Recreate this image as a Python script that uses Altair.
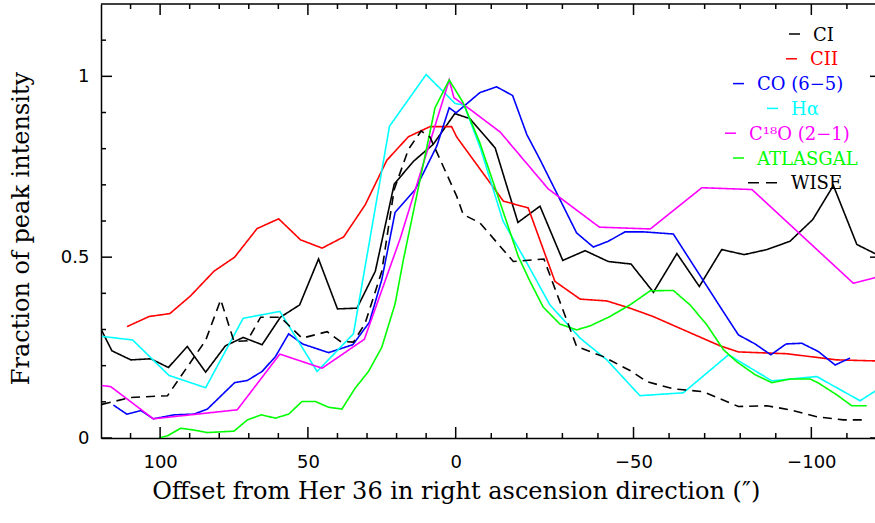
import altair as alt
import pandas as pd

# ---------------- data ----------------
SERIES = ["CI", "CII", "CO (6−5)", "Hα", "C¹⁸O (2−1)", "ATLASGAL", "WISE"]
COLORS = ["#000000", "#ff0000", "#0000ff", "#00ffff", "#ff00ff", "#00ff00", "#000000"]

CI_X = [120.0, 116.3, 109.9, 103.2, 97.2, 90.8, 84.6, 77.9, 71.9, 65.5, 59.3, 52.8, 46.4, 40.0, 33.4,
        27.2, 20.8, 14.3, 7.6, 0.3, -4.0, -11.1, -17.5, -23.7, -30.1, -36.4, -42.9, -49.3, -55.6, -62.2,
        -68.5, -74.8, -81.1, -87.5, -94.0, -100.4, -106.2, -112.8, -118.5]
CI_Y = [0.301, 0.241, 0.216, 0.219, 0.195, 0.253, 0.182, 0.255, 0.278, 0.258, 0.334, 0.368, 0.495, 0.357, 0.359,
        0.461, 0.702, 0.765, 0.812, 0.897, 0.883, 0.802, 0.596, 0.641, 0.491, 0.518, 0.488, 0.481, 0.403, 0.510,
        0.419, 0.521, 0.507, 0.521, 0.544, 0.604, 0.698, 0.535, 0.507]

CII_X = [111.2, 103.7, 96.7, 89.7, 81.8, 74.8, 67.2, 59.9, 52.5, 45.2, 37.9, 30.6, 23.3, 16.0, 8.7,
         1.4, -0.3, -13.4, -20.4, -27.9, -35.0, -42.5, -49.0, -55.5, -62.2, -68.7, -74.3, -79.5, -93.1,
         -107.2, -118.5]
CII_Y = [0.308, 0.336, 0.344, 0.393, 0.461, 0.500, 0.579, 0.606, 0.548, 0.525, 0.556, 0.645, 0.768, 0.833, 0.861,
         0.861, 0.832, 0.655, 0.636, 0.433, 0.384, 0.379, 0.359, 0.336, 0.307, 0.279, 0.255, 0.238, 0.233,
         0.216, 0.213]

CO_X = [115.8, 111.3, 106.5, 102.3, 95.3, 88.6, 84.0, 74.8, 70.5, 65.5, 61.0, 56.5, 51.8, 43.0, 34.8,
        29.2, 25.0, 20.5, 13.7, 6.4, 2.2, -0.1, -6.8, -11.5, -16.0, -20.0, -23.7, -34.0, -38.7, -42.9,
        -47.6, -52.8, -61.2, -74.8, -79.5, -84.2, -88.6, -92.9, -97.3, -102.0, -106.7, -110.9]
CO_Y = [0.091, 0.066, 0.076, 0.053, 0.064, 0.066, 0.080, 0.153, 0.159, 0.184, 0.225, 0.288, 0.260, 0.236, 0.258,
        0.320, 0.438, 0.624, 0.687, 0.807, 0.913, 0.899, 0.955, 0.971, 0.947, 0.839, 0.770, 0.567, 0.528, 0.544,
        0.570, 0.570, 0.564, 0.356, 0.285, 0.260, 0.230, 0.260, 0.262, 0.239, 0.202, 0.221]

HA_X = [119.7, 109.3, 97.0, 84.6, 71.9, 59.5, 46.9, 34.6, 22.4, 10.0, 0.2, -2.4, -7.0, -13.3, -20.0,
        -26.5, -35.0, -42.5, -51.8, -64.0, -76.7, -88.9, -101.5, -113.7, -118.5]
HA_Y = [0.281, 0.271, 0.173, 0.139, 0.331, 0.350, 0.184, 0.288, 0.862, 1.005, 0.925, 0.920, 0.800, 0.600, 0.484,
        0.368, 0.276, 0.216, 0.117, 0.125, 0.230, 0.158, 0.170, 0.103, 0.133]

C18O_X = [119.7, 116.7, 102.3, 73.9, 59.5, 45.2, 30.9, 18.8, 2.2, 0.6, -4.0, -12.5, -26.0, -40.4, -54.7,
          -69.2, -83.3, -111.8, -118.5]
C18O_Y = [0.145, 0.142, 0.053, 0.078, 0.232, 0.193, 0.273, 0.551, 0.990, 0.941, 0.909, 0.846, 0.689, 0.583, 0.578,
          0.692, 0.687, 0.428, 0.445]

ATL_X = [100.4, 97.5, 93.0, 88.6, 84.0, 75.0, 70.5, 65.8, 61.0, 56.5, 52.0, 47.5, 43.0, 38.5, 34.0,
         29.5, 25.0, 20.5, 17.7, 7.0, 2.2, -2.1, -6.8, -17.6, -20.9, -24.6, -29.3, -34.0, -37.8, -43.4,
         -49.0, -54.7, -61.2, -65.9, -70.6, -75.3, -79.0, -84.2, -88.9, -94.0, -99.7, -102.0, -107.2, -111.4, -115.6]
ATL_Y = [0.000, 0.006, 0.027, 0.022, 0.015, 0.019, 0.050, 0.064, 0.055, 0.066, 0.101, 0.101, 0.085, 0.080, 0.138,
         0.184, 0.251, 0.371, 0.493, 0.913, 0.990, 0.927, 0.816, 0.502, 0.433, 0.362, 0.315, 0.299, 0.310, 0.336,
         0.368, 0.407, 0.408, 0.368, 0.313, 0.244, 0.211, 0.175, 0.153, 0.163, 0.163, 0.152, 0.119, 0.089, 0.089]

WISE_X = [119.7, 110.0, 97.5, 84.6, 79.5, 75.0, 70.5, 66.0, 59.3, 52.0, 43.5, 39.0, 34.6, 30.6, 25.0,
          22.2, 20.8, 16.0, 11.7, 8.7, -0.3, -2.1, -6.8, -16.2, -24.8, -34.0, -41.5, -49.5, -53.7, -61.2,
          -69.6, -79.5, -87.5, -94.0, -101.5, -109.0, -115.6]
WISE_Y = [0.093, 0.112, 0.117, 0.270, 0.382, 0.267, 0.269, 0.334, 0.334, 0.276, 0.294, 0.267, 0.265, 0.318, 0.461,
          0.613, 0.687, 0.798, 0.849, 0.832, 0.668, 0.618, 0.595, 0.488, 0.495, 0.253, 0.225, 0.184, 0.156, 0.136,
          0.128, 0.087, 0.089, 0.078, 0.059, 0.050, 0.050]

X_MAJOR = [100, 50, 0, -50, -100]
X_MINOR = [110, 90, 80, 70, 60, 40, 30, 20, 10, -10, -20, -30, -40, -60, -70, -80, -90, -110]
Y_MAJOR = [0, 0.5, 1.0]
Y_MINOR = [0.1, 0.2, 0.3, 0.4, 0.6, 0.7, 0.8, 0.9, 1.1]

# ---------------- layout ----------------
W, H = 774, 434
LEFT, TOP = 101, 4
ZERO_PX = 354.7
XS = alt.Scale(domain=[120, 0, -117.9], range=[0, ZERO_PX, W], nice=False, zero=False)
YS = alt.Scale(domain=[0, 1.2], nice=False, zero=False)

pairs = [(CI_X, CI_Y), (CII_X, CII_Y), (CO_X, CO_Y), (HA_X, HA_Y), (C18O_X, C18O_Y), (ATL_X, ATL_Y), (WISE_X, WISE_Y)]
frames = []
for name, (xs, ys) in zip(SERIES, pairs):
    frames.append(pd.DataFrame({"series": name, "x": xs, "y": ys, "i": range(len(xs))}))
df = pd.concat(frames, ignore_index=True)

X_TITLE = "Offset from Her 36 in right ascension direction (″)"
Y_TITLE = "Fraction of peak intensity"

x_axis = alt.Axis(values=X_MAJOR, format="d", title=X_TITLE,
                  domain=True, domainColor="black", domainWidth=1.5, ticks=False, tickSize=0, grid=False,
                  labelFont="DejaVu Sans", labelFontSize=18, labelColor="black", labelBaseline="alphabetic",
                  labelPadding=29, labelFlush=False,
                  titleFont="DejaVu Serif", titleFontSize=24, titleFontWeight="normal", titleColor="black",
                  titleBaseline="alphabetic", titleX=ZERO_PX, titleY=60, titleAlign="center")
y_axis = alt.Axis(values=Y_MAJOR, format=".1~f", title=Y_TITLE,
                  domain=True, domainColor="black", domainWidth=1.5, ticks=False, tickSize=0, grid=False,
                  labelFont="DejaVu Sans", labelFontSize=18, labelColor="black", labelPadding=12, labelFlush=False,
                  titleFont="DejaVu Serif", titleFontSize=24, titleFontWeight="normal", titleColor="black",
                  titleAngle=270, titleBaseline="alphabetic", titleX=-72.5, titleY=224, titleAlign="center")

lines = alt.Chart(df).mark_line(strokeWidth=1.6, clip=True).encode(
    x=alt.X("x:Q", scale=XS, axis=x_axis, title=X_TITLE),
    y=alt.Y("y:Q", scale=YS, axis=y_axis, title=Y_TITLE),
    color=alt.Color("series:N", scale=alt.Scale(domain=SERIES, range=COLORS), legend=None),
    strokeDash=alt.StrokeDash("series:N", scale=alt.Scale(domain=SERIES, range=[[1, 0]] * 6 + [[9, 6]]), legend=None),
    detail="series:N",
    order="i:Q",
)

layers = [lines]


def xticks(vals, y0, y1):
    return alt.Chart(pd.DataFrame({"v": vals})).mark_rule(color="black", strokeWidth=1.5).encode(
        x=alt.X("v:Q", scale=XS, axis=x_axis, title=X_TITLE), y=alt.value(y0), y2=alt.value(y1))


def yticks(vals, x0, x1):
    return alt.Chart(pd.DataFrame({"v": vals})).mark_rule(color="black", strokeWidth=1.5).encode(
        y=alt.Y("v:Q", scale=YS, axis=y_axis, title=Y_TITLE), x=alt.value(x0), x2=alt.value(x1))


layers += [
    xticks(X_MAJOR, 0, 11), xticks(X_MINOR, 0, 5),
    xticks(X_MAJOR, H, H - 11), xticks(X_MINOR, H, H - 5),
    yticks(Y_MAJOR, 0, 11), yticks(Y_MINOR, 0, 5),
    yticks(Y_MAJOR, W - 5, W),
    alt.Chart(pd.DataFrame({"v": [0]})).mark_rule(color="black", strokeWidth=1.5).encode(
        x=alt.value(0), x2=alt.value(W), y=alt.value(0)),
]

# legend (custom, as in the reference)
LEG_TEXT_X = [813, 810, 757, 791, 749, 757, 791]
for i, (lab, col) in enumerate(zip(SERIES, COLORS)):
    yc = 34 + 24.8 * i - TOP
    tx = LEG_TEXT_X[i] - LEFT
    d = pd.DataFrame({"label": [lab]})
    layers.append(alt.Chart(d).mark_text(align="left", baseline="alphabetic", font="DejaVu Serif",
                                         fontSize=18, color=col).encode(
        x=alt.value(tx), y=alt.value(yc + 6.5), text="label:N"))
    if lab == "WISE":
        layers.append(alt.Chart(d).mark_rule(color=col, strokeWidth=1.5, strokeDash=[11, 7]).encode(
            x=alt.value(748 - LEFT), x2=alt.value(777 - LEFT), y=alt.value(yc)))
    else:
        layers.append(alt.Chart(d).mark_rule(color=col, strokeWidth=1.5).encode(
            x=alt.value(tx - 24), x2=alt.value(tx - 13), y=alt.value(yc)))

chart = alt.layer(*layers).properties(
    width=W, height=H,
    padding={"left": LEFT, "top": TOP, "right": 0, "bottom": 523 - TOP - H},
    autosize=alt.AutoSizeParams(type="none"),
).configure_view(strokeWidth=0)

chart.save("out.html", embed_options={"renderer": "svg", "actions": False})
